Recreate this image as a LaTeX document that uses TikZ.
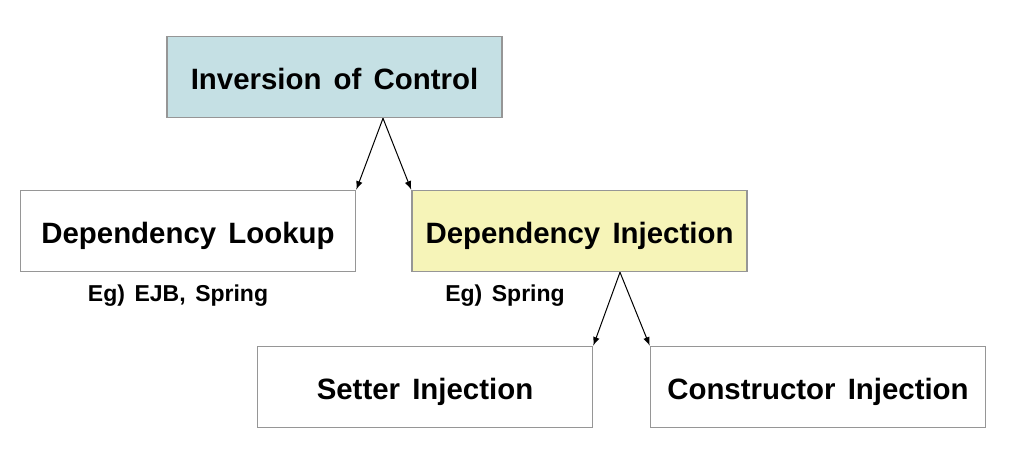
\documentclass[tikz,border=0pt]{standalone}
\usepackage{fontspec}
\setmainfont{Liberation Sans}[WordSpace=1.5]
\usetikzlibrary{arrows,calc}
\definecolor{iocblue}{RGB}{197,224,228}
\definecolor{diyellow}{RGB}{246,244,184}
\definecolor{boxgray}{RGB}{150,150,150}

\begin{document}
\begin{tikzpicture}[x=0.5pt,y=-0.5pt,
  box/.style={draw=boxgray,line width=0.8pt,minimum width=167.5pt,minimum height=40.5pt,
    inner sep=0pt,text height=12pt,text depth=0pt,font=\fontsize{14.7}{18}\selectfont\bfseries},
  eg/.style={font=\fontsize{11.5}{14}\selectfont\bfseries},
  link/.style={-latex,line width=0.5pt}]
\useasboundingbox(0,0)rectangle(1018,452);
\node[box,fill=iocblue](ioc)at(334.5,77){Inversion of Control};
\node[box](lookup)at(188,231){Dependency Lookup};
\node[box,fill=diyellow](di)at(579.5,231){Dependency Injection};
\node[box](setter)at(425,387){Setter Injection};
\node[box](ctor)at(818,387){Constructor Injection};
\node[eg](eglookup)at(178,296){Eg)\ EJB,\ Spring};
\node[eg](egdi)at(505,296){Eg)\ Spring};
\coordinate(iocfoot)at($(ioc.south)+(48.5,0)$);
\coordinate(difoot)at($(di.south)+(40.5,0)$);
\draw[link](iocfoot)--(lookup.north east);
\draw[link](iocfoot)--(di.north west);
\draw[link](difoot)--(setter.north east);
\draw[link](difoot)--(ctor.north west);
\end{tikzpicture}
\end{document}
